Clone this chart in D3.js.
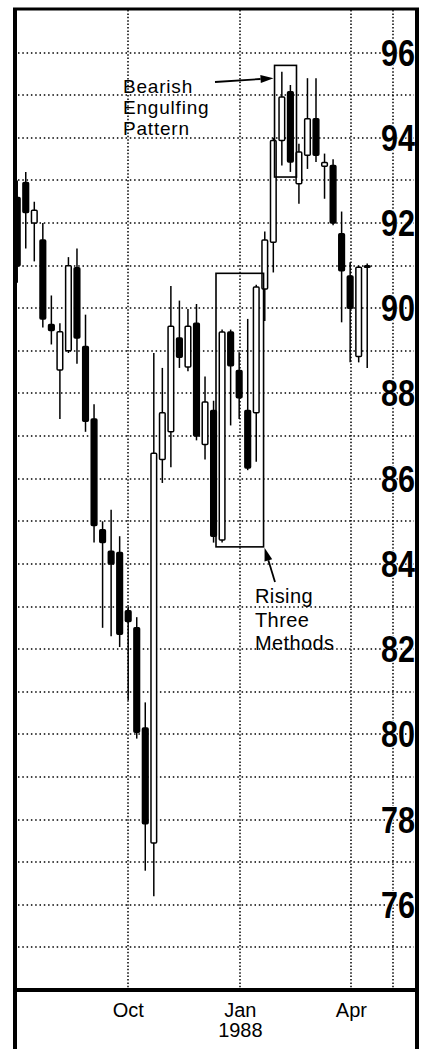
<!DOCTYPE html>
<html>
<head>
<meta charset="utf-8">
<script src="https://cdn.jsdelivr.net/npm/d3@7"></script>
<style>
  html, body { margin: 0; padding: 0; background: #fff; }
  svg { display: block; }
  text { font-family: "Liberation Sans", Arial, Helvetica, sans-serif; fill: #000; }
</style>
</head>
<body>
<svg id="chart" width="421" height="1049"></svg>
<script>
// ---- data ----
const weeks = ["1987-07-02","1987-07-09","1987-07-16","1987-07-23","1987-07-30","1987-08-06","1987-08-13","1987-08-20","1987-08-27","1987-09-03","1987-09-10","1987-09-17","1987-09-24","1987-10-01","1987-10-08","1987-10-15","1987-10-22","1987-10-29","1987-11-05","1987-11-12","1987-11-19","1987-11-26","1987-12-03","1987-12-10","1987-12-17","1987-12-24","1987-12-31","1988-01-07","1988-01-14","1988-01-21","1988-01-28","1988-02-04","1988-02-11","1988-02-18","1988-02-25","1988-03-03","1988-03-10","1988-03-17","1988-03-24","1988-03-31","1988-04-07","1988-04-14"];
const openP  = [92.6, 92.95, 92.0, 91.6, 89.62, 88.55, 89.0, 90.95, 89.1, 87.4, 84.8, 84.3, 84.27, 82.9, 82.5, 80.15, 77.45, 86.45, 87.1, 89.3, 88.62, 89.65, 86.8, 87.6, 84.56, 89.44, 88.54, 87.6, 87.55, 90.45, 91.55, 93.94, 95.08, 92.92, 93.59, 94.45, 93.33, 93.35, 91.75, 90.76, 88.87, 90.98];
const closeP = [91.0, 92.25, 92.3, 89.75, 89.48, 89.45, 91.0, 89.3, 87.35, 84.9, 84.5, 84.0, 82.35, 82.65, 80.05, 77.9, 86.6, 87.55, 89.58, 88.85, 89.58, 87.0, 87.8, 84.65, 89.44, 88.65, 87.9, 86.25, 90.5, 91.6, 93.94, 94.96, 93.43, 93.67, 94.45, 93.59, 93.42, 92.0, 90.88, 90.0, 90.96, 91.0];
const highP  = [93.0, 93.2, 92.5, 92.0, 90.3, 89.65, 91.2, 91.4, 89.85, 87.75, 85.0, 85.27, 84.65, 83.0, 82.75, 80.75, 88.95, 88.6, 90.52, 90.18, 89.98, 90.1, 88.4, 87.83, 89.5, 89.5, 88.97, 89.75, 90.55, 91.8, 94.0, 95.55, 95.24, 93.86, 95.4, 95.4, 93.63, 93.5, 92.27, 91.08, 91.0, 91.05];
const lowP   = [90.6, 91.4, 91.1, 89.55, 89.15, 87.4, 88.95, 88.7, 87.1, 84.5, 82.5, 82.3, 82.05, 80.8, 79.9, 76.8, 76.2, 85.9, 86.27, 88.6, 88.52, 86.9, 86.45, 84.5, 84.5, 87.25, 87.4, 86.2, 86.4, 89.7, 90.84, 93.35, 93.2, 92.45, 93.27, 93.43, 92.57, 91.95, 89.67, 88.73, 88.73, 88.6];

const priceLabels = [76, 78, 80, 82, 84, 86, 88, 90, 92, 94, 96];
const gridPrices = [75, 76, 77, 78, 79, 80, 81, 82, 83, 84, 85, 86, 87, 88, 89, 90, 91, 92, 93, 94, 95, 96];
const monthTicks = ["1987-10-01", "1988-01-01", "1988-04-01"];
const monthLabels = ["Oct", "Jan", "Apr"];
const yearLabels = ["", "1988", ""];
const extraGridDates = ["1988-05-05"];

// annotation boxes (data units)
const boxDates = [["1987-12-12", "1988-01-20"], ["1988-01-29", "1988-02-16"]];
const boxPrices = [[84.4, 90.82], [93.08, 95.7]];

(function () {
// ---- scales ----
const parse = d3.timeParse("%Y-%m-%d");
const W = 421, H = 1049;
const pL = 16, pR = 416, pT = 10, pB = 990;
const x = d3.scaleTime().domain([parse("1987-07-01"), parse("1988-05-24")]).range([pL, pR]);
const y = d3.scaleLinear().domain([74, 97]).range([pB, pT]);

const data = weeks.map((w, i) => ({ d: parse(w), o: openP[i], c: closeP[i], h: highP[i], l: lowP[i] }));

const svg = d3.select("#chart");
svg.append("rect").attr("width", W).attr("height", H).attr("fill", "#fff");

svg.append("defs").append("clipPath").attr("id", "plotclip")
  .append("rect").attr("x", pL + 1).attr("y", pT).attr("width", pR - pL - 2).attr("height", pB - pT);

// gridlines
const grid = svg.append("g");
grid.selectAll("line.h").data(gridPrices).join("line")
  .attr("x1", pL + 2).attr("x2", pR - 2)
  .attr("y1", d => Math.round(y(d))).attr("y2", d => Math.round(y(d)))
  .attr("stroke", "#000").attr("stroke-width", 1.5).attr("stroke-dasharray", "1.5,2.8");
const vDates = monthTicks.concat(extraGridDates).map(parse);
grid.selectAll("line.v").data(vDates).join("line")
  .attr("x1", d => Math.round(x(d))).attr("x2", d => Math.round(x(d)))
  .attr("y1", pT).attr("y2", pB)
  .attr("stroke", "#000").attr("stroke-width", 1.5).attr("stroke-dasharray", "1.5,1.9");

// candles
const step = x(parse("1987-07-09")) - x(parse("1987-07-02"));
const bw = Math.max(4, step * 0.66);
const cg = svg.append("g").attr("clip-path", "url(#plotclip)");
const cs = cg.selectAll("g.c").data(data).join("g");
cs.append("line")
  .attr("x1", d => x(d.d)).attr("x2", d => x(d.d))
  .attr("y1", d => y(d.h)).attr("y2", d => y(d.l))
  .attr("stroke", "#000").attr("stroke-width", 1.5);
cs.append("rect")
  .attr("x", d => x(d.d) - bw / 2)
  .attr("width", bw)
  .attr("y", d => y(Math.max(d.o, d.c)))
  .attr("height", d => Math.max(1.5, Math.abs(y(d.o) - y(d.c))))
  .attr("fill", d => d.c >= d.o ? "#fff" : "#000")
  .attr("stroke", "#000").attr("stroke-width", 1.5)
  .attr("rx", 1);

// boxes
svg.append("g").selectAll("rect").data(boxDates).join("rect")
  .attr("x", (d) => x(parse(d[0])))
  .attr("width", (d) => x(parse(d[1])) - x(parse(d[0])))
  .attr("y", (d, i) => y(boxPrices[i][1]))
  .attr("height", (d, i) => y(boxPrices[i][0]) - y(boxPrices[i][1]))
  .attr("fill", "none").attr("stroke", "#000").attr("stroke-width", 1.6);

// price labels
svg.append("g").selectAll("text").data(priceLabels).join("text")
  .attr("x", pR - 1).attr("y", d => y(d))
  .attr("dy", "0.36em")
  .attr("text-anchor", "end")
  .attr("font-size", 36).attr("font-weight", "bold")
  .attr("textLength", 34).attr("lengthAdjust", "spacingAndGlyphs")
  .style("paint-order", "stroke").attr("stroke", "#fff").attr("stroke-width", 2)
  .text(d => d);

// frame
const frame = svg.append("g").attr("stroke", "#000").attr("fill", "none");
frame.append("line").attr("x1", pL - 3).attr("x2", pR + 3).attr("y1", pT - 1).attr("y2", pT - 1).attr("stroke-width", 3);
frame.append("line").attr("x1", pL - 1).attr("x2", pL - 1).attr("y1", pT - 2).attr("y2", H).attr("stroke-width", 4);
frame.append("line").attr("x1", pR + 1).attr("x2", pR + 1).attr("y1", pT - 2).attr("y2", H).attr("stroke-width", 4);
frame.append("line").attr("x1", pL - 1).attr("x2", pR + 1).attr("y1", pB).attr("y2", pB).attr("stroke-width", 4);

// month labels
const mt = svg.append("g");
mt.selectAll("text.m").data(monthTicks).join("text")
  .attr("x", d => x(parse(d))).attr("y", 1017)
  .attr("text-anchor", "middle").attr("font-size", 20)
  .text((d, i) => monthLabels[i]);
mt.selectAll("text.yr").data(monthTicks).join("text")
  .attr("x", d => x(parse(d))).attr("y", 1037)
  .attr("text-anchor", "middle").attr("font-size", 20)
  .text((d, i) => yearLabels[i]);

// annotations
const ann = svg.append("g");
const bearLines = ["Bearish", "Engulfing", "Pattern"];
const bearBase = [93, 114, 135];
ann.selectAll("text.b").data(bearLines).join("text")
  .attr("x", 123).attr("y", (d, i) => bearBase[i])
  .attr("font-size", 19).attr("letter-spacing", 0.8).text(d => d);
const riseLines = ["Rising", "Three", "Methods"];
const riseBase = [603, 627, 650];
ann.selectAll("text.r").data(riseLines).join("text")
  .attr("x", 255).attr("y", (d, i) => riseBase[i])
  .attr("font-size", 20).attr("letter-spacing", 0.4).text(d => d);

function arrow(x1, y1, x2, y2) {
  const ang = Math.atan2(y2 - y1, x2 - x1);
  const L = 13, Wd = 4;
  const bx = x2 - L * Math.cos(ang), by = y2 - L * Math.sin(ang);
  ann.append("line").attr("x1", x1).attr("y1", y1).attr("x2", bx).attr("y2", by)
    .attr("stroke", "#000").attr("stroke-width", 1.8);
  const px = -Math.sin(ang) * Wd, py = Math.cos(ang) * Wd;
  ann.append("path")
    .attr("d", `M${x2},${y2}L${bx + px},${by + py}L${bx - px},${by - py}Z`)
    .attr("fill", "#000");
}
arrow(215, 82, x(parse(boxDates[1][0])) - 1, y(95.4));
arrow(275, 582, x(parse(boxDates[0][1])) + 1, y(boxPrices[0][0]) + 1);
})();
</script>
</body>
</html>
